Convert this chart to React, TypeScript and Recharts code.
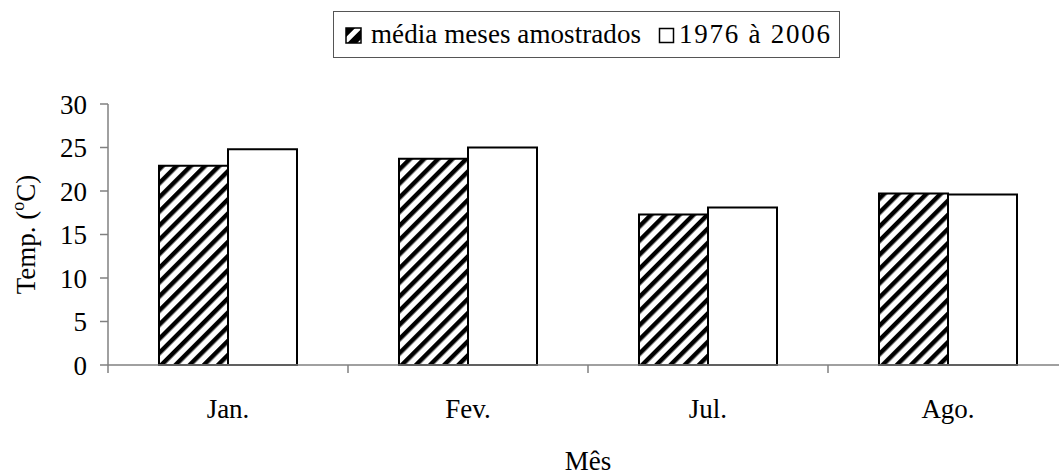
import React from 'react';
import { BarChart, Bar, XAxis, YAxis } from 'recharts';

const categories = ['Jan.', 'Fev.', 'Jul.', 'Ago.'];
const mediaMeses = [22.9, 23.7, 17.3, 19.7];
const normal1976 = [24.8, 25.0, 18.1, 19.6];
const yTicks = [0, 5, 10, 15, 20, 25, 30];
const seriesNames = ['média meses amostrados', '1976 à 2006'];
const xTitle = 'Mês';

const data = categories.map((c, i) => ({ mes: c, media: mediaMeses[i], normal: normal1976[i] }));

const FONT = '"Liberation Serif", "Times New Roman", serif';
const FS = 27;
const AXIS = '#808080';
const TICK = 8;

const XTick = (props: any) => {
  const { x, y, payload, width, visibleTicksCount } = props;
  const half = payload && payload.offset ? payload.offset : width / visibleTicksCount / 2;
  const bx = x - half;
  return (
    <g>
      <line x1={bx} x2={bx} y1={y - TICK} y2={y} stroke={AXIS} strokeWidth={1.5} />
      <text x={x} y={y} dy={45} textAnchor="middle" style={{ fontFamily: FONT, fontSize: FS }} fill="#000">
        {payload.value}
      </text>
    </g>
  );
};

const YLabel = (props: any) => {
  const vb = props.viewBox || { x: 0, y: 104, width: 108, height: 261 };
  const cx = 35;
  const cy = vb.y + vb.height / 2;
  return (
    <text
      x={cx}
      y={cy}
      transform={`rotate(-90 ${cx} ${cy})`}
      textAnchor="middle"
      style={{ fontFamily: FONT, fontSize: FS }}
      fill="#000"
    >
      Temp. (<tspan dy={-11} fontSize={18}>o</tspan>
      <tspan dy={11}>C)</tspan>
    </text>
  );
};

const XLabel = (props: any) => {
  const vb = props.viewBox;
  return (
    <text x={vb.x + vb.width / 2} y={470} textAnchor="middle" style={{ fontFamily: FONT, fontSize: FS }} fill="#000">
      {xTitle}
    </text>
  );
};

export default function App() {
  return (
    <div style={{ position: 'absolute', left: 0, top: 0, width: 1059, height: 475, overflow: 'hidden', background: '#fff' }}>
      <svg width={0} height={0} style={{ position: 'absolute' }}>
        <defs>
          <pattern id="hatch" patternUnits="userSpaceOnUse" width={10} height={10} patternTransform="rotate(45)">
            <rect x={0} y={0} width={10} height={10} fill="#fff" />
            <rect x={0} y={0} width={4.5} height={10} fill="#000" />
          </pattern>
          <pattern id="hatchSmall" patternUnits="userSpaceOnUse" width={12} height={12} patternTransform="rotate(45)">
            <rect x={0} y={0} width={12} height={12} fill="#fff" />
            <rect x={0} y={0} width={7} height={12} fill="#000" />
          </pattern>
        </defs>
      </svg>
      <svg width={1059} height={70} style={{ position: 'absolute', left: 0, top: 0 }}>
        <rect x={333.5} y={11.5} width={506} height={46} fill="#fff" stroke="#555" strokeWidth={1} />
        <rect x={346} y={28} width={15} height={15} fill="url(#hatchSmall)" stroke="#000" strokeWidth={1.5} />
        <text x={371} y={43} style={{ fontFamily: FONT, fontSize: FS }} fill="#000" textLength={270} lengthAdjust="spacing">
          {seriesNames[0]}
        </text>
        <rect x={659.5} y={28.5} width={14} height={14} fill="#fff" stroke="#000" strokeWidth={1.5} />
        <text x={679} y={43} style={{ fontFamily: FONT, fontSize: FS }} fill="#000" textLength={151} lengthAdjust="spacing">
          {seriesNames[1]}
        </text>
      </svg>
      <div style={{ position: 'absolute', left: 0, top: 0 }}>
        <BarChart
          width={1068}
          height={475}
          data={data}
          margin={{ top: 104, right: 0, bottom: 0, left: 0 }}
          barCategoryGap={51}
          barGap={0}
        >
          <XAxis
            dataKey="mes"
            height={110}
            tickLine={false}
            tickSize={TICK}
            tickMargin={0}
            axisLine={{ stroke: AXIS, strokeWidth: 1.5 }}
            tick={<XTick />}
            interval={0}
            label={<XLabel />}
          />
          <YAxis
            width={108}
            domain={[0, 30]}
            ticks={yTicks}
            interval={0}
            tickSize={TICK}
            tickMargin={13}
            axisLine={{ stroke: AXIS, strokeWidth: 1.5 }}
            tickLine={{ stroke: AXIS, strokeWidth: 1.5 }}
            tick={{ fontFamily: FONT, fontSize: FS, fill: '#000' }}
            label={<YLabel />}
          />
          <Bar dataKey="media" name={seriesNames[0]} fill="url(#hatch)" stroke="#000" strokeWidth={2} isAnimationActive={false} />
          <Bar dataKey="normal" name={seriesNames[1]} fill="#fff" stroke="#000" strokeWidth={2} isAnimationActive={false} />
        </BarChart>
      </div>
    </div>
  );
}
